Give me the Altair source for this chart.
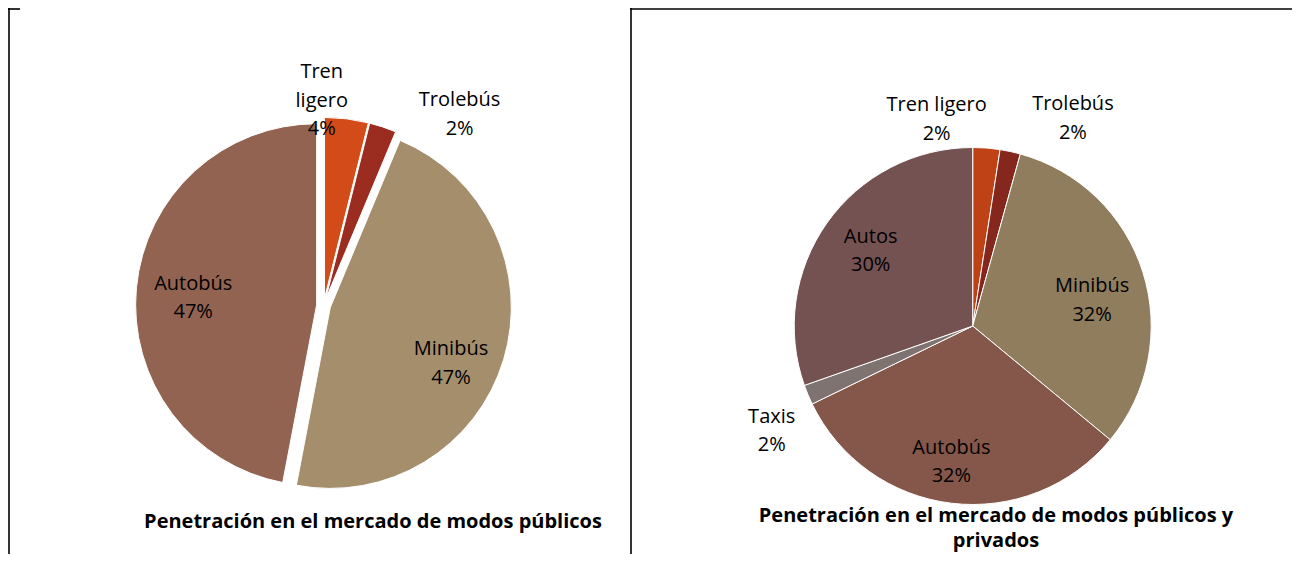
import math
import altair as alt
import pandas as pd

# ---------------- data ----------------
left_modes = ["Tren ligero", "Trolebús", "Minibús", "Autobús"]
left_display = ["Tren\nligero", "Trolebús", "Minibús", "Autobús"]
left_values = [3.9, 2.4, 46.7, 47.0]
left_colors = ["#D24B19", "#9A2C20", "#A48E6C", "#936352"]

right_modes = ["Tren ligero", "Trolebús", "Minibús", "Autobús", "Taxis", "Autos"]
right_display = ["Tren ligero", "Trolebús", "Minibús", "Autobús", "Taxis", "Autos"]
right_values = [2.45, 1.85, 31.7, 31.8, 1.8, 30.4]
right_colors = ["#BE4216", "#86271D", "#8F7D5E", "#84574A", "#7F7371", "#755252"]

titles = [
    "Penetración en el mercado de modos públicos",
    "Penetración en el mercado de modos públicos y\nprivados",
]

# ---------------- layout / style ----------------
OFF = 8  # page margin
FONT = "Open Sans"
LABEL_SIZE = 20
LH = 28.5
TITLE_SIZE = 20
TITLE_LH = 24.5
theta_scale = alt.Scale(domain=[0, 100], range=[0, 2 * math.pi])

left_pie = dict(cx=323.6, cy=305.4, R=181, explode=7,
                label=[(199, -27, 0), (228, 62, 32), (125, 1, 20), (124, 0, 5)])
right_pie = dict(cx=972.7, cy=326, R=178.5, explode=0,
                 label=[(207, -52, 0), (210, 56, -2), (122, 3, 11),
                        (137, -5, 0), (220, 2, 20), (125, 0, -3)])


def build_frame(modes, display, values):
    total = sum(values)
    rows, cum = [], 0.0
    for m, d, v in zip(modes, display, values):
        start = cum / total * 100
        cum += v
        end = cum / total * 100
        pct = round(v / total * 100)
        rows.append(dict(mode=m, label=f"{d}\n{pct}%", start=start, end=end,
                         mid=(start + end) / 2))
    return pd.DataFrame(rows)


def pie_layers(modes, display, values, colors, cfg):
    df = build_frame(modes, display, values)
    arcs, texts = [], []
    for i, m in enumerate(modes):
        mid = df.loc[i, "mid"] / 100 * 2 * math.pi
        ox = cfg["explode"] * math.sin(mid)
        oy = -cfg["explode"] * math.cos(mid)
        cx = cfg["cx"] - OFF + ox
        cy = cfg["cy"] - OFF + oy
        base = alt.Chart(df).transform_filter(alt.datum.mode == m)
        arcs.append(base.mark_arc(outerRadius=cfg["R"], stroke="white", strokeWidth=1).encode(
            theta=alt.Theta("start:Q", scale=theta_scale, stack=None),
            theta2="end:Q",
            x=alt.value(cx),
            y=alt.value(cy),
            color=alt.value(colors[i]),
        ))
        r, dx, dy = cfg["label"][i]
        n_lines = df.loc[i, "label"].count("\n") + 1
        dy_block = dy - (n_lines - 1) * LH / 2  # centre the multi-line block
        texts.append(base.mark_text(
            radius=r, dx=dx, dy=dy_block, font=FONT, fontSize=LABEL_SIZE,
            lineBreak="\n", lineHeight=LH, color="#000000",
            align="center", baseline="middle",
        ).encode(
            theta=alt.Theta("mid:Q", scale=theta_scale, stack=None),
            text="label:N",
            x=alt.value(cx),
            y=alt.value(cy),
        ))
    return arcs, texts


la, lt = pie_layers(left_modes, left_display, left_values, left_colors, left_pie)
ra, rt = pie_layers(right_modes, right_display, right_values, right_colors, right_pie)
layers = la + ra + lt + rt

# titles
title_df = pd.DataFrame({"t": titles, "k": [0, 1]})
title_pos = [(373, 522), (996, 516)]  # position of first line
for k, (tx, ty) in enumerate(title_pos):
    layers.append(
        alt.Chart(title_df).transform_filter(alt.datum.k == k).mark_text(
            font=FONT, fontSize=TITLE_SIZE, fontWeight="bold", color="#000000",
            align="center", baseline="middle", lineBreak="\n", lineHeight=TITLE_LH,
        ).encode(text="t:N", x=alt.value(tx - OFF), y=alt.value(ty - OFF))
    )

# table borders
border_df = pd.DataFrame({"b": [0]})
segments = [
    (0, 12, 1, 1),
    (622, 1284, 1, 1),
    (1, 1, 0, 546),
    (623, 623, 0, 546),
]
for x1, x2, y1, y2 in segments:
    layers.append(
        alt.Chart(border_df).mark_rule(color="#000000", strokeWidth=1.6).encode(
            x=alt.value(x1), x2=alt.value(x2), y=alt.value(y1), y2=alt.value(y2)
        )
    )

chart = alt.layer(*layers).properties(
    width=1284, height=546, padding=0,
    autosize=alt.AutoSizeParams(type="none"),
    background="white",
).configure_view(stroke=None)

chart.save("out.html", embed_options={"renderer": "svg", "actions": False})
